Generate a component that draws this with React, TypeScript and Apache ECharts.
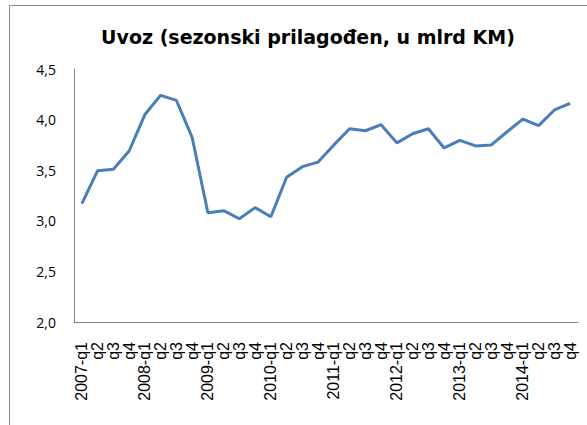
import React, { useEffect, useRef } from "react";
import * as echarts from "echarts";

const years = ["2007", "2008", "2009", "2010", "2011", "2012", "2013", "2014"];
const quarters = ["q1", "q2", "q3", "q4"];
const categories: string[] = [];
years.forEach((y) => quarters.forEach((q) => categories.push(q === "q1" ? `${y}-${q}` : q)));

const imports = [
  3.17, 3.495, 3.51, 3.69,
  4.05, 4.24, 4.19, 3.825,
  3.08, 3.1, 3.02, 3.13,
  3.04, 3.43, 3.535, 3.58,
  3.75, 3.91, 3.89, 3.95,
  3.77, 3.86, 3.91, 3.72,
  3.795, 3.74, 3.75, 3.88,
  4.005, 3.94, 4.095, 4.16,
];

const titleText = "Uvoz (sezonski prilagođen, u mlrd KM)";

export default function App() {
  const ref = useRef<HTMLDivElement>(null);
  useEffect(() => {
    if (!ref.current) return;
    const chart = echarts.init(ref.current, undefined, { renderer: "svg" });
    chart.setOption({
      animation: false,
      backgroundColor: "#ffffff",
      title: {
        text: titleText,
        left: 303,
        textAlign: "center",
        top: 22,
        textStyle: {
          fontFamily: "DejaVu Sans",
          fontWeight: "bold",
          fontSize: 19,
          color: "#000000",
        },
      },
      graphic: [
        { type: "line", shape: { x1: 9.5, y1: 5.5, x2: 587, y2: 5.5 }, style: { stroke: "#8c8c8c", lineWidth: 1 } },
        { type: "line", shape: { x1: 9.5, y1: 5.5, x2: 9.5, y2: 425 }, style: { stroke: "#8c8c8c", lineWidth: 1 } },
      ],
      grid: { left: 74, right: 9, top: 69, bottom: 103, containLabel: false },
      xAxis: {
        type: "category",
        data: categories,
        boundaryGap: true,
        axisLine: { lineStyle: { color: "#868686", width: 1 } },
        axisTick: { show: false },
        axisLabel: {
          rotate: 90,
          interval: 0,
          margin: 20,
          fontFamily: "Liberation Sans",
          fontSize: 16,
          color: "#000000",
        },
      },
      yAxis: {
        type: "value",
        min: 2,
        max: 4.5,
        interval: 0.5,
        axisLine: { show: true, lineStyle: { color: "#868686", width: 1 } },
        axisTick: { show: false },
        splitLine: { show: false },
        axisLabel: {
          margin: 18,
          fontFamily: "Open Sans",
          fontSize: 14,
          color: "#000000",
          formatter: (v: number) => v.toFixed(1).replace(".", ","),
        },
      },
      series: [
        {
          type: "line",
          data: imports,
          showSymbol: false,
          symbol: "none",
          lineStyle: { color: "#4A7EBB", width: 3 },
          itemStyle: { color: "#4A7EBB" },
        },
      ],
    });
    return () => chart.dispose();
  }, []);
  return (
    <div
      ref={ref}
      style={{ position: "fixed", left: 0, top: 0, width: 587, height: 425 }}
    />
  );
}
